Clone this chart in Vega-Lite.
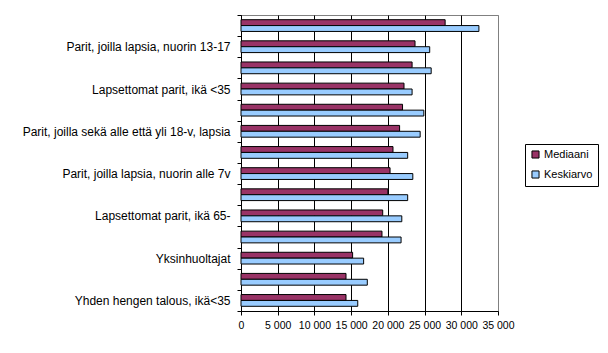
{
  "$schema": "https://vega.github.io/schema/vega-lite/v6.json",
  "autosize": "none",
  "width": 257,
  "height": 296,
  "padding": {"left": 241, "top": 15, "right": 110, "bottom": 42},
  "background": "white",
  "config": {
    "view": {"stroke": "#808080", "strokeWidth": 1},
    "font": "Liberation Sans",
    "axis": {"labelFont": "Liberation Sans", "labelColor": "black", "domainColor": "black", "tickColor": "black", "domainWidth": 1, "tickWidth": 1}
  },
  "data": {
    "values": [
      {"ryhma": "Aikuistaloudet", "tunnusluku": "Mediaani", "arvo": 27800},
      {"ryhma": "Aikuistaloudet", "tunnusluku": "Keskiarvo", "arvo": 32400},
      {"ryhma": "Parit, joilla lapsia, nuorin 13-17", "tunnusluku": "Mediaani", "arvo": 23700},
      {"ryhma": "Parit, joilla lapsia, nuorin 13-17", "tunnusluku": "Keskiarvo", "arvo": 25700},
      {"ryhma": "Lapsettomat parit, ikä 35-64", "tunnusluku": "Mediaani", "arvo": 23300},
      {"ryhma": "Lapsettomat parit, ikä 35-64", "tunnusluku": "Keskiarvo", "arvo": 25900},
      {"ryhma": "Lapsettomat parit, ikä <35", "tunnusluku": "Mediaani", "arvo": 22200},
      {"ryhma": "Lapsettomat parit, ikä <35", "tunnusluku": "Keskiarvo", "arvo": 23300},
      {"ryhma": "Parit, joilla lapsia, nuorin 7-12", "tunnusluku": "Mediaani", "arvo": 22000},
      {"ryhma": "Parit, joilla lapsia, nuorin 7-12", "tunnusluku": "Keskiarvo", "arvo": 24900},
      {"ryhma": "Parit, joilla sekä alle että yli 18-v, lapsia", "tunnusluku": "Mediaani", "arvo": 21600},
      {"ryhma": "Parit, joilla sekä alle että yli 18-v, lapsia", "tunnusluku": "Keskiarvo", "arvo": 24400},
      {"ryhma": "Kaikki taloudet", "tunnusluku": "Mediaani", "arvo": 20700},
      {"ryhma": "Kaikki taloudet", "tunnusluku": "Keskiarvo", "arvo": 22700},
      {"ryhma": "Parit, joilla lapsia, nuorin alle 7v", "tunnusluku": "Mediaani", "arvo": 20300},
      {"ryhma": "Parit, joilla lapsia, nuorin alle 7v", "tunnusluku": "Keskiarvo", "arvo": 23400},
      {"ryhma": "Muut taloudet", "tunnusluku": "Mediaani", "arvo": 20000},
      {"ryhma": "Muut taloudet", "tunnusluku": "Keskiarvo", "arvo": 22700},
      {"ryhma": "Lapsettomat parit, ikä 65-", "tunnusluku": "Mediaani", "arvo": 19300},
      {"ryhma": "Lapsettomat parit, ikä 65-", "tunnusluku": "Keskiarvo", "arvo": 21900},
      {"ryhma": "Yhden hengen talous, ikä 35-64", "tunnusluku": "Mediaani", "arvo": 19200},
      {"ryhma": "Yhden hengen talous, ikä 35-64", "tunnusluku": "Keskiarvo", "arvo": 21800},
      {"ryhma": "Yksinhuoltajat", "tunnusluku": "Mediaani", "arvo": 15200},
      {"ryhma": "Yksinhuoltajat", "tunnusluku": "Keskiarvo", "arvo": 16700},
      {"ryhma": "Yhden hengen talous, ikä 65-", "tunnusluku": "Mediaani", "arvo": 14300},
      {"ryhma": "Yhden hengen talous, ikä 65-", "tunnusluku": "Keskiarvo", "arvo": 17200},
      {"ryhma": "Yhden hengen talous, ikä<35", "tunnusluku": "Mediaani", "arvo": 14300},
      {"ryhma": "Yhden hengen talous, ikä<35", "tunnusluku": "Keskiarvo", "arvo": 15900}
    ]
  },
  "mark": {"type": "bar", "stroke": "black", "strokeWidth": 1},
  "encoding": {
    "y": {
      "field": "ryhma",
      "type": "nominal",
      "sort": null,
      "scale": {"paddingInner": 0, "paddingOuter": 0},
      "axis": {
        "title": null,
        "tickBand": "extent",
        "tickSize": 4,
        "labelPadding": 7,
        "labelFontSize": 12,
        "labelLimit": 300,
        "labelExpr": "indexof(['Parit, joilla lapsia, nuorin 13-17','Lapsettomat parit, ikä <35','Parit, joilla sekä alle että yli 18-v, lapsia','Parit, joilla lapsia, nuorin alle 7v','Lapsettomat parit, ikä 65-','Yksinhuoltajat','Yhden hengen talous, ikä<35'], datum.value) >= 0 ? datum.value : ''"
      }
    },
    "yOffset": {
      "field": "tunnusluku",
      "type": "nominal",
      "sort": ["Mediaani", "Keskiarvo"],
      "scale": {"paddingOuter": 0.8, "paddingInner": 0}
    },
    "x": {
      "field": "arvo",
      "type": "quantitative",
      "scale": {"domain": [0, 35000], "nice": false},
      "axis": {
        "title": null,
        "values": [0, 5000, 10000, 15000, 20000, 25000, 30000, 35000],
        "labelExpr": "replace(format(datum.value, ','), ',', ' ')",
        "grid": true,
        "gridColor": {"condition": {"test": "datum.value == 35000", "value": "#808080"}, "value": "black"},
        "gridOpacity": 1,
        "tickSize": 4,
        "labelPadding": 5,
        "labelFontSize": 10.5,
        "labelFlush": false
      }
    },
    "color": {
      "field": "tunnusluku",
      "type": "nominal",
      "sort": ["Mediaani", "Keskiarvo"],
      "scale": {"domain": ["Mediaani", "Keskiarvo"], "range": ["#993366", "#99CCFF"]},
      "legend": {
        "title": null,
        "orient": "none",
        "legendX": 284,
        "legendY": 129,
        "strokeColor": "black",
        "fillColor": "white",
        "padding": 5,
        "symbolType": "square",
        "symbolSize": 50,
        "symbolStrokeColor": "black",
        "symbolStrokeWidth": 1,
        "symbolOpacity": 1,
        "labelFont": "Liberation Sans",
        "labelFontSize": 11,
        "labelColor": "black",
        "rowPadding": 7,
        "labelOffset": 3
      }
    }
  }
}
